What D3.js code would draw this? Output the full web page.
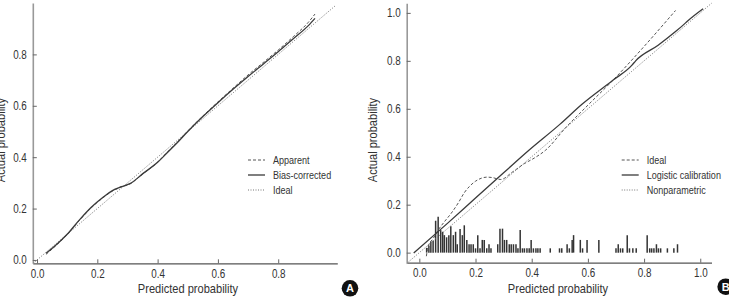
<!DOCTYPE html>
<html>
<head>
<meta charset="utf-8">
<script src="https://cdn.jsdelivr.net/npm/d3@7"></script>
<style>
  body { margin: 0; background: #fff; }
  text { font-family: "Liberation Sans", Arial, sans-serif; fill: #333; }
</style>
</head>
<body>
<svg id="chart" width="729" height="299"></svg>
<script>
// ---- panel A data ----
let a_ticks_x = [0, 0.2, 0.4, 0.6, 0.8];
let a_ticks_y = [0, 0.2, 0.4, 0.6, 0.8];
let a_x        = [0.03, 0.06, 0.1, 0.14, 0.18, 0.22, 0.25, 0.28, 0.31, 0.35, 0.4, 0.43, 0.46, 0.5, 0.55, 0.6, 0.65, 0.7, 0.75, 0.8, 0.85, 0.9, 0.922];
let a_bias     = [0.026, 0.055, 0.1, 0.155, 0.205, 0.245, 0.27, 0.285, 0.298, 0.335, 0.38, 0.415, 0.45, 0.5, 0.558, 0.612, 0.664, 0.714, 0.762, 0.81, 0.861, 0.912, 0.94];
let a_apparent = [0.022, 0.053, 0.099, 0.153, 0.203, 0.243, 0.268, 0.284, 0.297, 0.334, 0.381, 0.417, 0.452, 0.502, 0.56, 0.615, 0.668, 0.72, 0.768, 0.817, 0.869, 0.925, 0.957];
let a_ideal    = [-0.012, 0.99];
let a_legend   = ['Apparent', 'Bias-corrected', 'Ideal'];

// ---- panel B data ----
let b_ticks = [0, 0.2, 0.4, 0.6, 0.8, 1.0];
let b_np_x  = [0.025, 0.031, 0.05, 0.067, 0.09, 0.114, 0.14, 0.16, 0.18, 0.2, 0.22, 0.24, 0.26, 0.29, 0.33, 0.375, 0.41, 0.45, 0.52, 0.6, 0.69, 0.8, 0.912];
let b_np_y  = [-0.015, 0.025, 0.06, 0.094, 0.13, 0.165, 0.21, 0.25, 0.278, 0.298, 0.31, 0.315, 0.313, 0.305, 0.335, 0.372, 0.395, 0.428, 0.52, 0.615, 0.72, 0.86, 1.01];
let b_lc_x  = [-0.02, 0.1, 0.2, 0.3, 0.39, 0.5, 0.58, 0.69, 0.757, 0.77, 0.85, 0.912, 0.94, 0.954, 1.01];
let b_lc_y  = [-0.002, 0.122, 0.228, 0.333, 0.427, 0.535, 0.62, 0.72, 0.782, 0.8, 0.865, 0.922, 0.95, 0.965, 1.017];
let b_ideal = [-0.045, 1.04];
let b_legend = ['Ideal', 'Logistic calibration', 'Nonparametric'];

// spike histogram of predicted probabilities
let hist_x = [0.026, 0.034, 0.041, 0.049, 0.058, 0.067, 0.076, 0.083, 0.089, 0.097, 0.105, 0.112, 0.121, 0.129, 0.135,
  0.145, 0.153, 0.16, 0.169, 0.177, 0.184, 0.192, 0.2, 0.208, 0.216, 0.224, 0.231, 0.24, 0.248, 0.255,
  0.279, 0.287, 0.296, 0.303, 0.311, 0.32, 0.327, 0.335, 0.344, 0.351, 0.359, 0.367, 0.374, 0.383, 0.391,
  0.398, 0.406, 0.415, 0.422, 0.43, 0.466, 0.499, 0.507, 0.526, 0.534, 0.544, 0.549, 0.573, 0.581, 0.597,
  0.639, 0.7, 0.708, 0.716, 0.724, 0.74, 0.748, 0.76, 0.772, 0.811, 0.82, 0.827, 0.835, 0.844, 0.851, 0.859,
  0.883, 0.906, 0.919];
let hist_h = [0.02, 0.03, 0.046, 0.05, 0.133, 0.15, 0.094, 0.087, 0.073, 0.064, 0.073, 0.11, 0.073, 0.087, 0.035,
  0.099, 0.073, 0.114, 0.053, 0.035, 0.035, 0.035, 0.018, 0.073, 0.018, 0.053, 0.053, 0.018, 0.035, 0.018,
  0.035, 0.1, 0.1, 0.053, 0.053, 0.035, 0.035, 0.035, 0.035, 0.018, 0.094, 0.018, 0.018, 0.018, 0.018,
  0.053, 0.018, 0.018, 0.018, 0.018, 0.018, 0.018, 0.018, 0.035, 0.018, 0.053, 0.073, 0.053, 0.018, 0.053,
  0.053, 0.018, 0.035, 0.018, 0.018, 0.073, 0.018, 0.018, 0.018, 0.073, 0.018, 0.018, 0.018, 0.035, 0.018, 0.018,
  0.018, 0.018, 0.035];

let svg = d3.select('#chart');
let line_color = '#3a3a3a';
let styles = {
  dashed: {width: 1, dash: '3,2', color: '#555'},
  solid:  {width: 1.3, dash: null, color: line_color},
  dotted: {width: 1, dash: '1,1.5', color: '#777'}
};

function draw_panel(cfg) {
  let g = svg.append('g');
  let x = cfg.x, y = cfg.y;

  // axes, ticks point inward
  let x_axis = d3.axisBottom(x).tickValues(cfg.ticks_x).tickFormat(d3.format('.1f'))
    .tickSizeInner(-4).tickSizeOuter(0).tickPadding(6);
  let y_axis = d3.axisLeft(y).tickValues(cfg.ticks_y).tickFormat(d3.format('.1f'))
    .tickSizeInner(-4).tickSizeOuter(0).tickPadding(6);

  let gx = g.append('g').attr('transform', `translate(0,${y.range()[0]})`).call(x_axis);
  let gy = g.append('g').attr('transform', `translate(${x.range()[0]},0)`).call(y_axis);
  gx.select('.domain').attr('stroke', '#555').attr('stroke-width', 1.2);
  gy.select('.domain').attr('stroke', '#999').attr('stroke-width', 1.6);
  gx.selectAll('.tick line').attr('stroke', '#666');
  gy.selectAll('.tick line').attr('stroke', '#666');
  g.selectAll('.tick text').style('font-size', '12px').attr('font-family', null).attr('fill', '#333');

  // axis titles
  g.append('text')
    .attr('x', cfg.xlab_x).attr('y', 293)
    .style('font-size', '13.5px').style('text-anchor', 'middle')
    .text('Predicted probability');
  g.append('text')
    .attr('transform', `translate(${cfg.ylab_x},${cfg.ylab_y}) rotate(-90)`)
    .style('font-size', '13.5px').style('text-anchor', 'middle')
    .text('Actual probability');

  // histogram spikes
  if (cfg.hist) {
    g.selectAll('.spike')
      .data(d3.range(hist_x.length))
      .enter().append('line')
      .attr('class', 'spike')
      .attr('x1', i => x(hist_x[i])).attr('x2', i => x(hist_x[i]))
      .attr('y1', y(0)).attr('y2', i => y(hist_h[i]))
      .attr('stroke', '#333').attr('stroke-width', 1.5);
  }

  // curves
  cfg.series.forEach(s => {
    let st = styles[s.style];
    let pts = s.xs.map((v, i) => [v, s.ys[i]]);
    g.append('path')
      .attr('d', d3.line().x(d => x(d[0])).y(d => y(d[1])).curve(d3.curveMonotoneX)(pts))
      .attr('fill', 'none')
      .attr('stroke', st.color)
      .attr('stroke-width', st.width)
      .attr('stroke-dasharray', st.dash);
  });

  // legend
  let lg = g.append('g').attr('transform', `translate(${cfg.legend_x},160)`);
  cfg.legend.forEach((name, i) => {
    let st = styles[cfg.legend_styles[i]];
    lg.append('line')
      .attr('x1', 0).attr('x2', 17).attr('y1', i * 15).attr('y2', i * 15)
      .attr('stroke', st.color).attr('stroke-width', st.width)
      .attr('stroke-dasharray', st.dash);
    lg.append('text')
      .attr('x', 25).attr('y', i * 15 + 4)
      .style('font-size', '11px')
      .text(name);
  });

  // panel badge
  g.append('circle').attr('cx', cfg.badge[0]).attr('cy', cfg.badge[1]).attr('r', 8.3).attr('fill', '#111');
  g.append('text')
    .attr('class', 'badge')
    .attr('x', cfg.badge[0]).attr('y', cfg.badge[1] + 4)
    .style('font-size', '11px').style('font-weight', 'bold')
    .style('text-anchor', 'middle').style('fill', '#fff')
    .text(cfg.badge_label);
}

draw_panel({
  x: d3.scaleLinear().domain([-0.014, 0.996]).range([32.8, 337.3]),
  y: d3.scaleLinear().domain([-0.013, 1.0]).range([263.3, 3]),
  ticks_x: a_ticks_x, ticks_y: a_ticks_y,
  xlab_x: 188, ylab_x: 5, ylab_y: 140,
  hist: false,
  series: [
    {xs: a_ideal, ys: a_ideal, style: 'dotted'},
    {xs: a_x, ys: a_apparent, style: 'dashed'},
    {xs: a_x, ys: a_bias, style: 'solid'}
  ],
  legend: a_legend, legend_styles: ['dashed', 'solid', 'dotted'], legend_x: 248,
  badge: [350, 288.3], badge_label: 'A'
});

draw_panel({
  x: d3.scaleLinear().domain([-0.045, 1.04]).range([406.7, 711.5]),
  y: d3.scaleLinear().domain([-0.042, 1.04]).range([262.7, 3.3]),
  ticks_x: b_ticks, ticks_y: b_ticks,
  xlab_x: 558, ylab_x: 377, ylab_y: 140,
  hist: true,
  series: [
    {xs: b_ideal, ys: b_ideal, style: 'dotted'},
    {xs: b_np_x, ys: b_np_y, style: 'dashed'},
    {xs: b_lc_x, ys: b_lc_y, style: 'solid'}
  ],
  legend: b_legend, legend_styles: ['dashed', 'solid', 'dotted'], legend_x: 621.7,
  badge: [725.7, 286.7], badge_label: 'B'
});

// the original uses a condensed face: squeeze the regular one horizontally
svg.selectAll('text:not(.badge)').each(function() {
  let w = this.getComputedTextLength();
  d3.select(this).attr('textLength', w * 0.82).attr('lengthAdjust', 'spacingAndGlyphs');
});
</script>
</body>
</html>
